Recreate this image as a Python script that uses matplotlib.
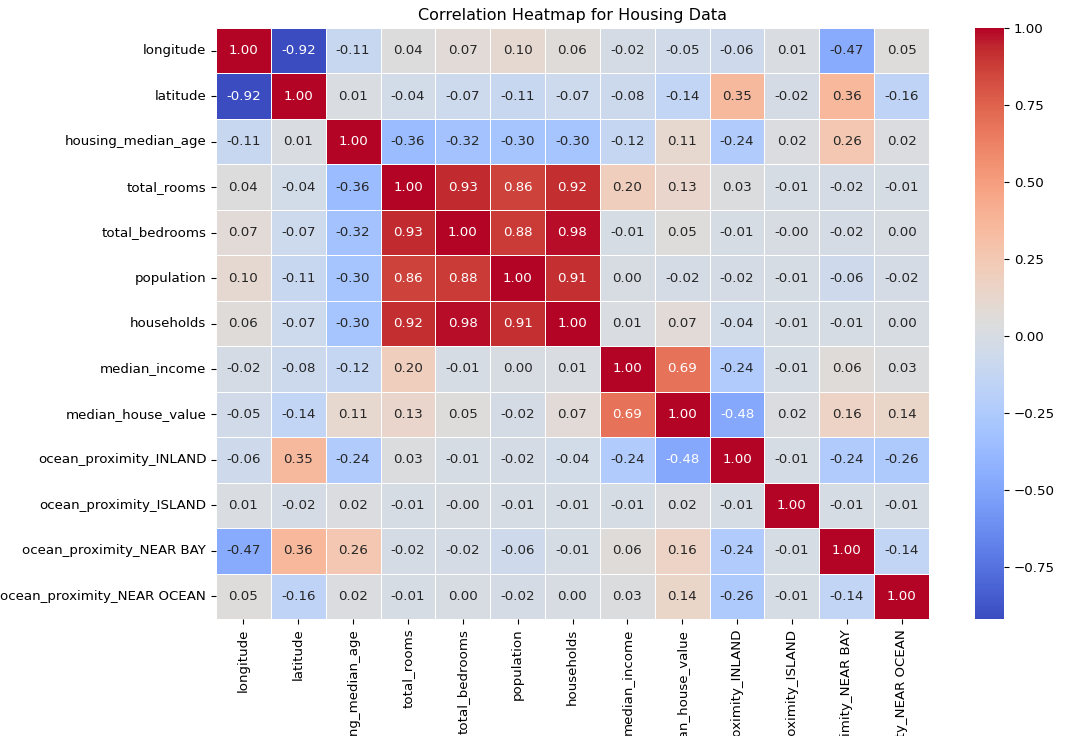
import matplotlib
matplotlib.use("Agg")
import matplotlib.pyplot as plt
import numpy as np
import pandas as pd
import seaborn as sns

labels = ["longitude", "latitude", "housing_median_age", "total_rooms",
          "total_bedrooms", "population", "households", "median_income",
          "median_house_value", "ocean_proximity_INLAND", "ocean_proximity_ISLAND",
          "ocean_proximity_NEAR BAY", "ocean_proximity_NEAR OCEAN"]

corr_values = [
    [1.00, -0.92, -0.11, 0.04, 0.07, 0.10, 0.06, -0.02, -0.05, -0.06, 0.01, -0.47, 0.05],
    [-0.92, 1.00, 0.01, -0.04, -0.07, -0.11, -0.07, -0.08, -0.14, 0.35, -0.02, 0.36, -0.16],
    [-0.11, 0.01, 1.00, -0.36, -0.32, -0.30, -0.30, -0.12, 0.11, -0.24, 0.02, 0.26, 0.02],
    [0.04, -0.04, -0.36, 1.00, 0.93, 0.86, 0.92, 0.20, 0.13, 0.03, -0.01, -0.02, -0.01],
    [0.07, -0.07, -0.32, 0.93, 1.00, 0.88, 0.98, -0.01, 0.05, -0.01, -0.001, -0.02, 0.00],
    [0.10, -0.11, -0.30, 0.86, 0.88, 1.00, 0.91, 0.00, -0.02, -0.02, -0.01, -0.06, -0.02],
    [0.06, -0.07, -0.30, 0.92, 0.98, 0.91, 1.00, 0.01, 0.07, -0.04, -0.01, -0.01, 0.00],
    [-0.02, -0.08, -0.12, 0.20, -0.01, 0.00, 0.01, 1.00, 0.69, -0.24, -0.01, 0.06, 0.03],
    [-0.05, -0.14, 0.11, 0.13, 0.05, -0.02, 0.07, 0.69, 1.00, -0.48, 0.02, 0.16, 0.14],
    [-0.06, 0.35, -0.24, 0.03, -0.01, -0.02, -0.04, -0.24, -0.48, 1.00, -0.01, -0.24, -0.26],
    [0.01, -0.02, 0.02, -0.01, -0.001, -0.01, -0.01, -0.01, 0.02, -0.01, 1.00, -0.01, -0.01],
    [-0.47, 0.36, 0.26, -0.02, -0.02, -0.06, -0.01, 0.06, 0.16, -0.24, -0.01, 1.00, -0.14],
    [0.05, -0.16, 0.02, -0.01, 0.00, -0.02, 0.00, 0.03, 0.14, -0.26, -0.01, -0.14, 1.00],
]

corr = pd.DataFrame(corr_values, index=labels, columns=labels)

plt.rcParams["font.size"] = 9.6

fig = plt.figure(figsize=(10.73, 7.36), dpi=100)
ax = fig.add_axes([216 / 1073, 1 - 619 / 736, (929 - 216) / 1073, (619 - 28) / 736])
cax = fig.add_axes([975 / 1073, 1 - 619 / 736, 29 / 1073, (619 - 28) / 736])

sns.heatmap(corr, annot=True, fmt=".2f", cmap="coolwarm", linewidths=0.5,
            ax=ax, cbar_ax=cax, annot_kws={"size": 9.6})
ax.tick_params(labelsize=9.6)
cax.tick_params(labelsize=9.6)
ax.set_title("Correlation Heatmap for Housing Data", fontsize=11.5)

fig.savefig("out.png", dpi=100)
